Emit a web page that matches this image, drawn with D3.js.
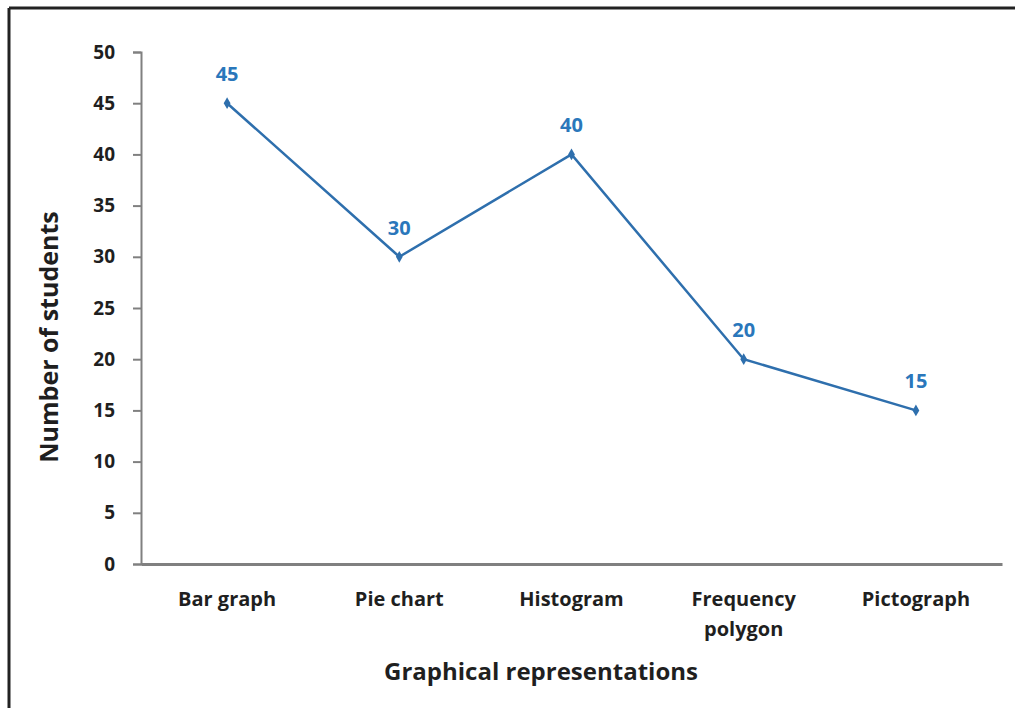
<!DOCTYPE html>
<html>
<head>
<meta charset="utf-8">
<script src="https://cdn.jsdelivr.net/npm/d3@7"></script>
<style>
  html, body { margin: 0; padding: 0; background: #fff; }
  svg { display: block; }
  text { font-family: "Open Sans", Lato, sans-serif; }
</style>
</head>
<body>
<svg id="chart" width="1015" height="708"></svg>
<script>
// Survey results: how many students prefer each graphical representation
const categories = ["Bar graph", "Pie chart", "Histogram", "Frequency polygon", "Pictograph"];
const students = [45, 30, 40, 20, 15];
const yTicks = [0, 5, 10, 15, 20, 25, 30, 35, 40, 45, 50];

const svg = d3.select("#chart");
const W = 1015, H = 708;
const plotLeft = 141, plotRight = 1002, plotTop = 52, plotBottom = 564;
const ink = "#1f1f1f";

// Frame lines (top and left edges)
svg.append("line").attr("x1", 9).attr("x2", W).attr("y1", 8).attr("y2", 8)
  .attr("stroke", "#222").attr("stroke-width", 3);
svg.append("line").attr("x1", 9).attr("x2", 9).attr("y1", 8).attr("y2", H)
  .attr("stroke", "#222").attr("stroke-width", 3);

const x = d3.scaleBand().domain(categories).range([plotLeft, plotRight]);
const y = d3.scaleLinear().domain([0, 50]).range([plotBottom, plotTop]);

// Y axis
const yAxis = svg.append("g").attr("transform", `translate(${plotLeft},0)`)
  .call(d3.axisLeft(y).tickValues(yTicks).tickSize(8).tickPadding(18));
yAxis.select(".domain").attr("stroke", "#808080").attr("stroke-width", 2);
yAxis.selectAll(".tick line").attr("stroke", "#808080").attr("stroke-width", 2);
yAxis.selectAll(".tick text").attr("fill", ink)
  .style("font-size", "19px").style("font-weight", "bold");

// X axis
const xAxis = svg.append("g").attr("transform", `translate(0,${plotBottom})`)
  .call(d3.axisBottom(x).tickSize(0).tickPadding(0));
xAxis.select(".domain").attr("stroke", "#808080").attr("stroke-width", 3);
xAxis.selectAll(".tick text").remove();
xAxis.selectAll(".tick").each(function(d) {
  const t = d3.select(this).append("text")
    .attr("fill", ink).attr("text-anchor", "middle")
    .style("font-size", "20px").style("font-weight", "bold");
  const words = d === "Frequency polygon" ? ["Frequency", "polygon"] : [d];
  words.forEach((w, i) => t.append("tspan").attr("x", 0).attr("y", 42 + i * 30).text(w));
});

// Axis titles
svg.append("text").attr("x", 541).attr("y", 680).attr("text-anchor", "middle")
  .attr("fill", ink).style("font-size", "24px").style("font-weight", "bold")
  .text("Graphical representations");
svg.append("text")
  .attr("transform", `translate(58,337) rotate(-90)`)
  .attr("text-anchor", "middle").attr("fill", ink)
  .style("font-size", "25px").style("font-weight", "bold")
  .text("Number of students");

// Series line
const blue = "#2e6fad";
const pts = categories.map((c, i) => ({ c, v: students[i] }));
svg.append("path").datum(pts)
  .attr("fill", "none").attr("stroke", blue).attr("stroke-width", 2.5)
  .attr("d", d3.line().x(d => x(d.c) + x.bandwidth() / 2).y(d => y(d.v)));

// Diamond markers
svg.selectAll(".marker").data(pts).join("path").attr("class", "marker")
  .attr("transform", d => `translate(${x(d.c) + x.bandwidth() / 2},${y(d.v)})`)
  .attr("d", d3.symbol(d3.symbolDiamond, 40))
  .attr("fill", blue);

// Value labels
svg.selectAll(".val").data(pts).join("text").attr("class", "val")
  .attr("x", d => x(d.c) + x.bandwidth() / 2)
  .attr("y", d => y(d.v) - 22)
  .attr("text-anchor", "middle").attr("fill", "#2a77bb")
  .style("font-size", "20px").style("font-weight", "bold")
  .text(d => d.v);
</script>
</body>
</html>
